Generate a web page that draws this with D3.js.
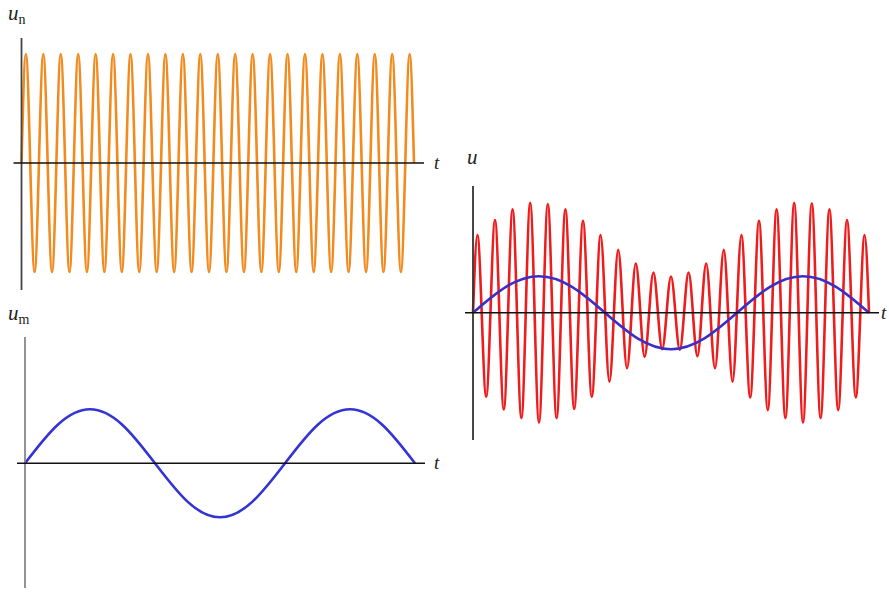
<!DOCTYPE html>
<html>
<head>
<meta charset="utf-8">
<script src="https://cdn.jsdelivr.net/npm/d3@7"></script>
<style>
  body { margin: 0; background: #fff; }
  svg { display: block; }
  .lbl { font-family: "Liberation Serif", "DejaVu Serif", serif; fill: #222; }
</style>
</head>
<body>
<script>
// time of carrier zero / extreme points, in carrier periods
var extremaT = [0, 0.25, 0.75, 1.25, 1.75, 2.25, 2.75, 3.25, 3.75, 4.25, 4.75,
  5.25, 5.75, 6.25, 6.75, 7.25, 7.75, 8.25, 8.75, 9.25, 9.75, 10.25, 10.75,
  11.25, 11.75, 12.25, 12.75, 13.25, 13.75, 14.25, 14.75, 15.25, 15.75, 16.25,
  16.75, 17.25, 17.75, 18.25, 18.75, 19.25, 19.75, 20.25, 20.75, 21.25, 21.75,
  22.25, 22.5];

// carrier u_n
var carrierU = [0, 1, -1, 1, -1, 1, -1, 1, -1, 1, -1,
  1, -1, 1, -1, 1, -1, 1, -1, 1, -1, 1, -1,
  1, -1, 1, -1, 1, -1, 1, -1, 1, -1, 1,
  -1, 1, -1, 1, -1, 1, -1, 1, -1, 1, -1,
  1, 0];

// modulated signal u
var amU = [0, 2.13, -2.30, 2.54, -2.65, 2.83, -2.89, 3.01, -3.01, 2.98, -2.89,
  2.83, -2.64, 2.52, -2.30, 2.13, -1.89, 1.72, -1.52, 1.35, -1.21, 1.10, -1.00,
  0.99, -1.02, 1.10, -1.19, 1.35, -1.52, 1.72, -1.89, 2.13, -2.32, 2.52,
  -2.67, 2.83, -2.89, 3.01, -3.01, 3.00, -2.89, 2.83, -2.67, 2.54, -2.32,
  2.13, 0];

// modulating signal u_m
var modT = [0, 1.875, 3.75, 5.625, 7.5, 9.375, 11.25, 13.125, 15, 16.875, 18.75, 20.625, 22.5];
var modU = [0, 0.71, 1, 0.71, 0, -0.71, -1, -0.71, 0, 0.71, 1, 0.71, 0];

var W = 889, H = 592;
var svg = d3.select("body").append("svg").attr("width", W).attr("height", H);

function zip(ts, us) { return ts.map(function(t, i) { return [t, us[i]]; }); }

function panel(p) {
  var x = d3.scaleLinear().domain([0, 22.5]).range([p.x0, p.x1]);
  var y = d3.scaleLinear().domain([-p.ymax, p.ymax]).range([p.zero + p.amp, p.zero - p.amp]);
  var g = svg.append("g");
  p.series.forEach(function(s) {
    var line = d3.line().x(function(d) { return x(d[0]); }).y(function(d) { return y(d[1]); })
      .curve(s.curve);
    g.append("path").datum(s.data).attr("d", line)
      .attr("fill", "none").attr("stroke", s.color).attr("stroke-width", 2.6)
      .attr("stroke-linejoin", "round");
  });
  // axes
  g.append("line").attr("x1", x(0)).attr("x2", x(0)).attr("y1", p.yTop).attr("y2", p.yBot)
    .attr("stroke", p.vColor).attr("stroke-width", 1.8);
  g.append("line").attr("x1", x(0) - 8).attr("x2", p.xEnd).attr("y1", y(0)).attr("y2", y(0))
    .attr("stroke", "#111").attr("stroke-width", 1.6);
  g.append("text").attr("class", "lbl").attr("x", p.tX).attr("y", y(0) + 6)
    .attr("font-size", 19).attr("font-style", "italic").text("t");
  var lab = g.append("text").attr("class", "lbl").attr("x", p.labX).attr("y", p.labY)
    .attr("font-size", 21);
  lab.append("tspan").attr("font-style", "italic").text("u");
  if (p.sub) lab.append("tspan").attr("font-size", 14).attr("dy", 4).text(p.sub);
}

panel({ x0: 21.5, x1: 414, zero: 163, amp: 109, ymax: 1, yTop: 38, yBot: 290, xEnd: 424,
  tX: 434, vColor: "#444", labX: 8, labY: 20, sub: "n",
  series: [{ data: zip(extremaT, carrierU), color: "#f28a1e", curve: d3.curveMonotoneX }] });

panel({ x0: 25, x1: 415, zero: 463.3, amp: 54, ymax: 1, yTop: 337, yBot: 588, xEnd: 425,
  tX: 434, vColor: "#888", labX: 8, labY: 320, sub: "m",
  series: [{ data: zip(modT, modU), color: "#3434d4", curve: d3.curveNatural }] });

panel({ x0: 473, x1: 869, zero: 312.7, amp: 109.5, ymax: 3, yTop: 186, yBot: 440, xEnd: 879,
  tX: 881, vColor: "#333", labX: 467, labY: 164, sub: null,
  series: [{ data: zip(extremaT, amU), color: "#ee1c1c", curve: d3.curveMonotoneX },
           { data: zip(modT, modU), color: "#3a2fc4", curve: d3.curveNatural }] });
</script>
</body>
</html>
